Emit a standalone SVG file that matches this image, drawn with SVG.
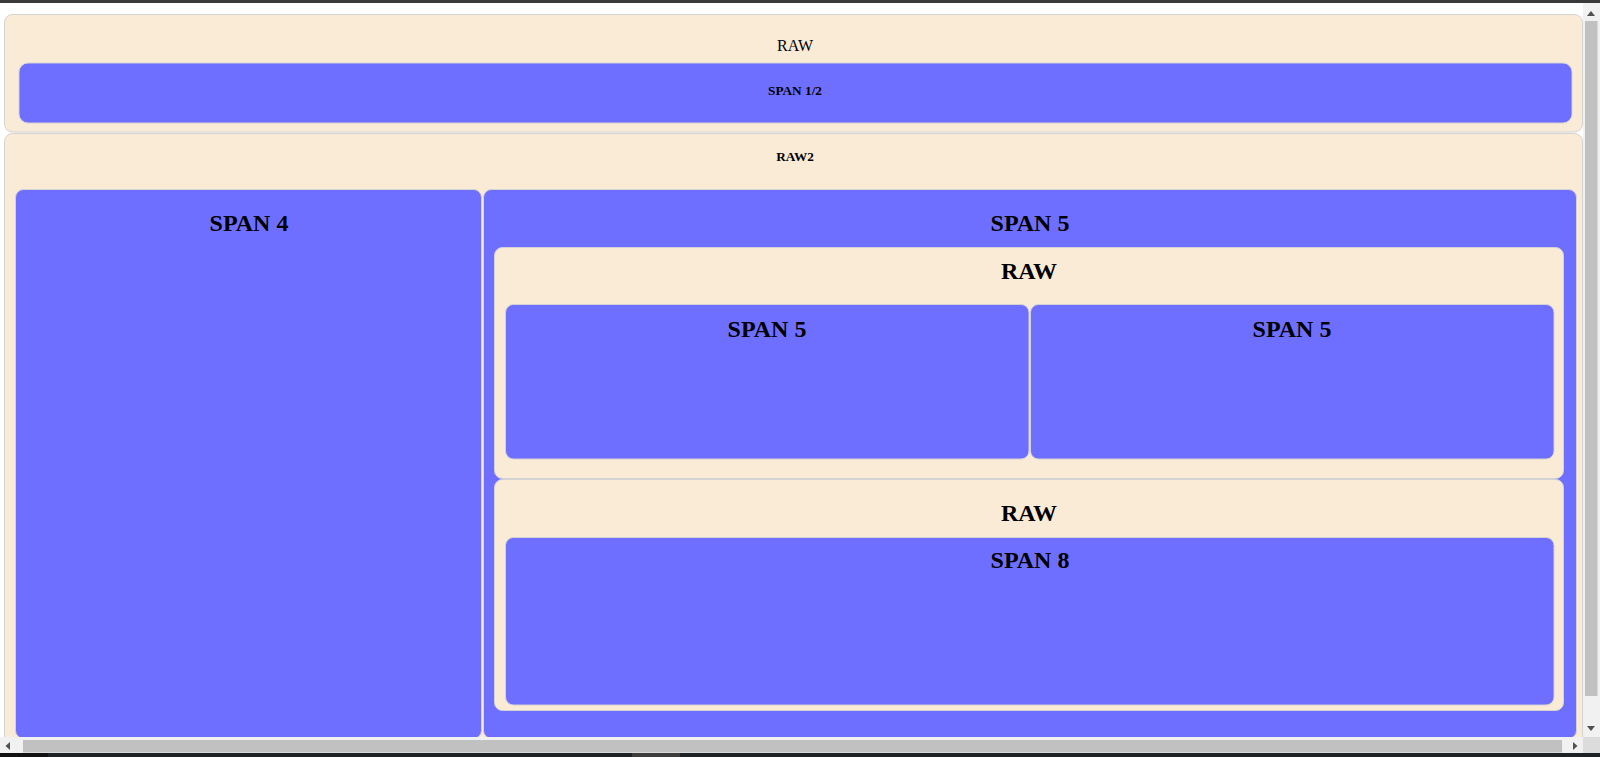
<svg xmlns="http://www.w3.org/2000/svg" width="1600" height="757" viewBox="0 0 1600 757">
  <style>
    .raw { fill: #faebd7; stroke: #d3d3d3; stroke-width: 1; }
    .span { fill: #6f6fff; stroke: #d3d3d3; stroke-width: 1; }
    .t { font-family: "Liberation Serif", "Times New Roman", serif; fill: #000; text-anchor: middle; }
    .h2 { font-size: 24px; font-weight: bold; }
    .h5 { font-size: 13.28px; font-weight: bold; }
    .plain { font-size: 16px; }
    .track { fill: #f1f1f1; }
    .thumb { fill: #c1c1c1; }
    .arrow { fill: #505050; }
  </style>

  <rect x="0" y="0" width="1600" height="757" fill="#ffffff"/>
  <rect x="0" y="0" width="1600" height="3" fill="#3a3a3a"/>

  <!-- top row -->
  <g id="raw-top">
    <rect class="raw" x="4.5" y="14.5" width="1578" height="117.5" rx="8"/>
    <text class="t plain" x="795" y="51">RAW</text>
  </g>
  <g id="span-half">
    <rect class="span" x="19" y="63" width="1553" height="60" rx="9" stroke="none"/>
    <text class="t h5" x="795" y="95">SPAN 1/2</text>
  </g>

  <!-- second row -->
  <g id="raw2">
    <rect class="raw" x="4.5" y="133.5" width="1578" height="700" rx="8"/>
    <text class="t h5" x="795" y="161">RAW2</text>
  </g>
  <g id="span4">
    <rect class="span" x="15.5" y="189.5" width="466" height="549" rx="8"/>
    <text class="t h2" x="249" y="231">SPAN 4</text>
  </g>
  <g id="span5">
    <rect class="span" x="483.5" y="189.5" width="1093" height="549" rx="8"/>
    <text class="t h2" x="1030" y="231">SPAN 5</text>
  </g>

  <!-- nested rows inside SPAN 5 -->
  <g id="raw-inner-1">
    <rect class="raw" x="494.5" y="247.5" width="1069" height="231" rx="8"/>
    <text class="t h2" x="1029" y="279">RAW</text>
  </g>
  <g id="span5-left">
    <rect class="span" x="505.5" y="304.5" width="523.5" height="154.5" rx="8"/>
    <text class="t h2" x="767" y="337">SPAN 5</text>
  </g>
  <g id="span5-right">
    <rect class="span" x="1030.5" y="304.5" width="523.5" height="154.5" rx="8"/>
    <text class="t h2" x="1292" y="337">SPAN 5</text>
  </g>
  <g id="raw-inner-2">
    <rect class="raw" x="494.5" y="479.5" width="1069" height="231" rx="8"/>
    <text class="t h2" x="1029" y="521">RAW</text>
  </g>
  <g id="span8">
    <rect class="span" x="505.5" y="537.5" width="1048.5" height="167.5" rx="8"/>
    <text class="t h2" x="1030" y="568">SPAN 8</text>
  </g>

  <!-- window scrollbars -->
  <g id="scroll-v">
    <rect class="track" x="1583" y="3" width="17" height="734"/>
    <rect class="thumb" x="1585" y="21" width="12.5" height="675"/>
    <polygon class="arrow" points="1587,16 1595,16 1591,11"/>
    <polygon class="arrow" points="1587,726 1595,726 1591,731"/>
  </g>
  <g id="scroll-h">
    <rect class="track" x="0" y="737" width="1583" height="16"/>
    <rect class="thumb" x="23" y="740" width="1539" height="12.5"/>
    <polygon class="arrow" points="10,742 10,750 5.5,746"/>
    <polygon class="arrow" points="1573,742 1573,750 1577.5,746"/>
    <rect x="1583" y="737" width="17" height="16" fill="#dcdcdc"/>
  </g>
  <g id="bottom-bar">
    <rect x="0" y="753" width="1600" height="4" fill="#1e2224"/>
    <rect x="0" y="753" width="48" height="4" fill="#111111"/>
    <rect x="632" y="753" width="48" height="4" fill="#3c3c3c"/>
  </g>
</svg>
